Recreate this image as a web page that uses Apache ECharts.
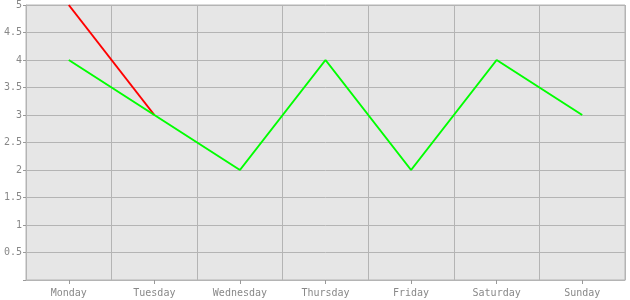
<!DOCTYPE html>
<html><head><meta charset="utf-8">
<script src="https://cdn.jsdelivr.net/npm/echarts@6/dist/echarts.min.js"></script>
<style>html,body{margin:0;padding:0;background:#fff}#c{width:630px;height:300px}</style>
</head><body><div id="c"></div>
<script>
const categories = ['Monday','Tuesday','Wednesday','Thursday','Friday','Saturday','Sunday'];
const redValues = [5, 3, null, null, null, null, null];
const greenValues = [4, 3, 2, 4, 2, 4, 3];
const yMin = 0, yMax = 5, yStep = 0.5;

const chart = echarts.init(document.getElementById('c'), null, {renderer: 'canvas'});
const font = {fontFamily: 'DejaVu Sans Mono', fontSize: 10, color: '#888'};
chart.setOption({
  animation: false,
  grid: {left: 26, right: 5, top: 5, bottom: 20, show: true, backgroundColor: '#e6e6e6', borderColor: '#b4b4b4', borderWidth: 1},
  xAxis: {
    type: 'category', data: categories, boundaryGap: true,
    axisLine: {show: true, lineStyle: {color: '#b4b4b4'}},
    axisTick: {show: true, alignWithLabel: true, length: 4, lineStyle: {color: '#999'}},
    axisLabel: Object.assign({margin: 8}, font),
    splitLine: {show: true, lineStyle: {color: '#b4b4b4'}}
  },
  yAxis: {
    type: 'value', min: yMin, max: yMax, interval: yStep,
    axisLine: {show: true, lineStyle: {color: '#b4b4b4'}},
    axisTick: {show: true, length: 3, lineStyle: {color: '#999'}},
    axisLabel: Object.assign({margin: 4, formatter: v => v === 0 ? '' : String(v)}, font),
    splitLine: {show: true, lineStyle: {color: '#b4b4b4'}}
  },
  series: [
    {type: 'line', data: redValues, showSymbol: false, symbol: 'none', lineStyle: {color: '#ff0000', width: 2}, itemStyle: {color: '#ff0000'}, connectNulls: false},
    {type: 'line', data: greenValues, showSymbol: false, symbol: 'none', lineStyle: {color: '#00ff00', width: 2}, itemStyle: {color: '#00ff00'}}
  ]
});
</script></body></html>
